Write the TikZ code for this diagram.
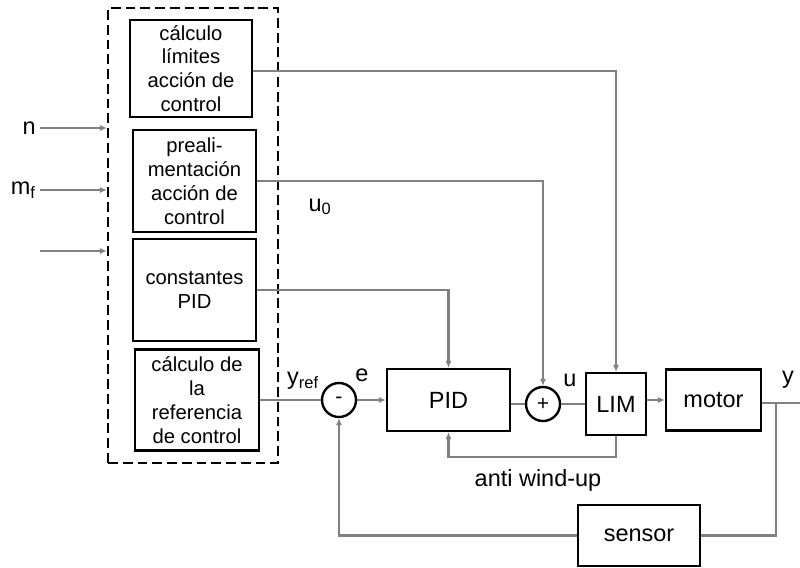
\documentclass[tikz,border=0pt]{standalone}
\usepackage{fontspec}
\setmainfont{Liberation Sans}
\usetikzlibrary{arrows.meta}

\tikzset{
  bloque/.style={draw, line width=1.7pt, align=center, inner sep=0pt,
    font=\fontsize{14.4}{17}\selectfont},
  suma/.style={draw, circle, line width=1.7pt, minimum size=0.85cm, inner sep=0pt,
    font=\fontsize{15}{18}\selectfont},
  senal/.style={draw=gray, line width=1.5pt},
  flecha/.style={senal, -{Latex[length=5pt,width=4.5pt]}},
  etiq/.style={inner sep=0pt, font=\fontsize{16.7}{20}\selectfont},
}

\begin{document}
\begin{tikzpicture}[x=0.025cm, y=-0.025cm]
    \useasboundingbox (0,0) rectangle (800,567);

    % bloque de calculo (discontinuo)
    \node[draw, line width=1.6pt, dash pattern=on 7pt off 3.5pt,
        minimum width=4.25cm, minimum height=11.375cm] (grupo) at (193,235.5) {};

    \node[bloque, minimum width=3.05cm, minimum height=2.425cm] (limites) at (191,68.5)
        {cálculo\\límites\\acción de\\control};
    \node[bloque, minimum width=3.075cm, minimum height=2.55cm] (prealim) at (194.5,181)
        {preali-\\mentación\\acción de\\control};
    \node[bloque, minimum width=3.075cm, minimum height=2.55cm] (constpid) at (194.5,290)
        {constantes\\PID};
    \node[bloque, minimum width=3.1cm, minimum height=2.525cm] (ref) at (197,400)
        {cálculo de\\la\\referencia\\de control};

    % entradas
    \foreach \i/\yy/\lab in {1/128/n, 2/190/m\textsubscript{f}, 3/251/} {
        \coordinate (in\i) at (40,\yy);
        \draw[flecha] (in\i) -- (in\i -| grupo.west);
        \node[etiq, anchor=east] (lin\i) at (36,\yy) {\lab};
    }

    % lazo
    \node[suma] (menos) at (339,400) {-};
    \node[bloque, font=\fontsize{16.7}{20}\selectfont,
        minimum width=3.075cm, minimum height=1.55cm] (pid) at (448.5,400) {PID};
    \node[suma] (mas) at (543,404) {+};
    \node[bloque, font=\fontsize{16.7}{20}\selectfont,
        minimum width=1.5cm, minimum height=1.55cm] (lim) at (616,404) {LIM};
    \node[bloque, font=\fontsize{16.7}{20}\selectfont,
        minimum width=2.375cm, minimum height=1.525cm] (motor) at (713.5,400) {motor};
    \node[bloque, font=\fontsize{16.7}{20}\selectfont,
        minimum width=3.05cm, minimum height=1.525cm] (sensor) at (639,535.5) {sensor};

    \coordinate (salida) at (800,403);
    \coordinate (rama) at (776,403);

    \draw[flecha] (limites.east |- 0,71) -| (lim.north);
    \draw[flecha] (prealim.east) -| (mas.north);
    \draw[flecha] (constpid.east) -| (pid.north);
    \draw[senal] (ref.east) -- (menos.west);
    \draw[flecha] (menos.east) -- (pid.west);
    \draw[senal] (mas.west -| pid.east) -- (mas.west);
    \draw[senal] (mas.east) -- (mas.east -| lim.west);
    \draw[flecha] (motor.west -| lim.east) -- (motor.west);
    \draw[senal] (salida -| motor.east) -- (salida);
    \draw[senal] (rama) |- (sensor.east);
    \draw[flecha] (sensor.west) -| (menos.south);
    \draw[flecha] (lim.south) -- ++(0,21) -| (pid.south);

    % etiquetas
    \node[etiq] (lyref) at (303,381) {y\textsubscript{ref}};
    \node[etiq] (le) at (362,375) {e};
    \node[etiq] (lu) at (570,380) {u};
    \node[etiq] (ly) at (788,380) {y};
    \node[etiq] (lu0) at (320,207) {u\textsubscript{0}};
    \node[etiq] (law) at (538,480) {anti wind-up};
\end{tikzpicture}
\end{document}
